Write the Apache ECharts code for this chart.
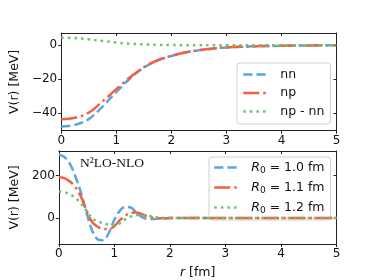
<!DOCTYPE html>
<html>
<head>
<meta charset="utf-8">
<script src="https://cdn.jsdelivr.net/npm/echarts@6/dist/echarts.min.js"></script>
<style>html,body{margin:0;padding:0;background:#fff}#c{width:374px;height:280px}</style>
</head>
<body>
<div id="c"></div>
<script>
// ---- data ----
const rTop = [0, 0.25, 0.5, 0.75, 1.0, 1.25, 1.5, 1.75, 2.0, 2.25, 2.5, 2.75, 3.0, 3.5, 4.0, 4.5, 5.0];
const nnValues = [-47.8, -46.8, -43.4, -36.0, -27.5, -19.5, -13.2, -9.0, -6.3, -4.3, -3.0, -2.0, -1.3, -0.6, -0.3, -0.1, 0];
const npValues = [-43.5, -42.6, -39.6, -33.0, -25.8, -18.8, -12.9, -8.8, -6.2, -4.2, -2.9, -1.9, -1.2, -0.6, -0.3, -0.1, 0];
const diffValues = [4.4, 4.2, 3.5, 2.5, 1.6, 0.9, 0.5, 0.25, 0.1, 0.05, 0, 0, 0, 0, 0, 0, 0];

const rBot = [0, 0.1, 0.2, 0.3, 0.4, 0.5, 0.6, 0.7, 0.8, 0.9, 1.0, 1.1, 1.2, 1.3, 1.4, 1.5, 1.6, 1.7, 1.8, 1.9, 2.0, 2.5, 3.0, 3.5, 4.0, 4.5, 5.0];
const r10Values = [298, 288, 255, 195, 120, 25, -58, -100, -104, -70, -8, 35, 53, 50, 25, 5, -4, -4, -2, -1, 0, 0, 0, 0, 0, 0, 0];
const r11Values = [192, 188, 172, 145, 100, 35, -18, -41, -51, -51, -38, -10, 12, 25, 26, 18, 8, 2, -1, -1, 0, 0, 0, 0, 0, 0, 0];
const r12Values = [125, 122, 112, 95, 68, 35, -2, -14, -25, -31, -33, -25, -5, 8, 14, 15, 12, 7, 3, 1, 0, 0, 0, 0, 0, 0, 0];

const topNames = ['nn', 'np', 'np - nn'];
const r0Labels = ['1.0', '1.1', '1.2'];
const xTicks = [0, 1, 2, 3, 4, 5];
const yTopTicks = [-40, -20, 0];
const yBotTicks = [0, 200];

// ---- styles ----
const BLUE = '#5da5da', RED = '#f4603f', GREEN = '#6cc36c';
const FONT = 'DejaVu Sans';
const pair = (xs, ys) => xs.map((x, i) => [x, ys[i]]);
const dashed = [9.2, 4], dashdot = [16, 4, 2.5, 4], dotted = [2.5, 4.1];

function xAx(grid, pos, showLabel, name) {
  return {
    type: 'value', gridIndex: grid, position: pos, min: 0, max: 5,
    axisLine: { show: true, onZero: false, lineStyle: { color: '#222', width: 1 } },
    axisTick: { show: true, inside: pos === 'top', length: 3, customValues: xTicks, lineStyle: { color: '#222' } },
    axisLabel: { show: showLabel, customValues: xTicks, margin: 4, fontFamily: FONT, fontSize: 12, color: '#111' },
    splitLine: { show: false },
    name: name || '', nameLocation: 'middle', nameGap: 22,
    nameTextStyle: {
      fontFamily: FONT, fontSize: 12.5, color: '#111',
      rich: { it: { fontStyle: 'italic', fontFamily: FONT, fontSize: 12.5, color: '#111' },
              n: { fontFamily: FONT, fontSize: 12.5, color: '#111' } }
    }
  };
}
function yAx(grid, pos, min, max, ticks, showLabel) {
  return {
    type: 'value', gridIndex: grid, position: pos, min: min, max: max,
    axisLine: { show: true, onZero: false, lineStyle: { color: '#222', width: 1 } },
    axisTick: { show: true, inside: pos === 'right', length: 3, customValues: ticks, lineStyle: { color: '#222' } },
    axisLabel: { show: showLabel, customValues: ticks, margin: 4, fontFamily: FONT, fontSize: 12, color: '#111',
                 formatter: v => (v < 0 ? '\u2212' + Math.abs(v) : String(v)) },
    splitLine: { show: false },
    name: showLabel ? 'V(r) [MeV]' : '', nameLocation: 'middle', nameGap: 29, nameRotate: 90,
    nameTextStyle: { fontFamily: FONT, fontSize: 12.5, color: '#111' }
  };
}
function line(name, data, color, dash, xi, yi, z) {
  return {
    type: 'line', name: name, data: data, xAxisIndex: xi, yAxisIndex: yi,
    smooth: 0.35, showSymbol: false, symbol: 'none', z: z, animation: false,
    lineStyle: { color: color, width: 2.5, type: dash, cap: 'butt' },
    itemStyle: { color: color }
  };
}
const r0Name = v => 'R0 = ' + v + ' fm';
const legendBase = {
  orient: 'vertical', itemWidth: 23, itemHeight: 14,
  borderColor: '#d0d0d0', borderWidth: 1, borderRadius: 3,
  backgroundColor: 'rgba(255,255,255,0.85)', selectedMode: false,
  itemStyle: { opacity: 0, borderWidth: 0 },
  lineStyle: { width: 2.5 }
};

const chart = echarts.init(document.getElementById('c'), null, { renderer: 'canvas' });
chart.setOption({
  backgroundColor: '#fff',
  animation: false,
  title: {
    text: 'N\u00b2LO-NLO', left: 75, top: 151,
    textStyle: { fontFamily: 'Liberation Serif', fontSize: 13.5, fontWeight: 'normal', color: '#111' }
  },
  grid: [
    { left: 47, right: 37.5, top: 33, height: 97.7 },
    { left: 47, right: 37.5, top: 151, height: 97 }
  ],
  xAxis: [
    xAx(0, 'bottom', true),
    xAx(0, 'top', false),
    xAx(1, 'bottom', true, '{it|r}{n| [fm]}'),
    xAx(1, 'top', false)
  ],
  yAxis: [
    yAx(0, 'left', -50.2, 7.2, yTopTicks, true),
    yAx(0, 'right', -50.2, 7.2, yTopTicks, false),
    yAx(1, 'left', -122, 316, yBotTicks, true),
    yAx(1, 'right', -122, 316, yBotTicks, false)
  ],
  legend: [
    Object.assign({}, legendBase, {
      data: topNames, left: 237, top: 63, itemGap: 5.5,
      padding: [5, 6, 6, 5],
      textStyle: { fontFamily: FONT, fontSize: 12.5, color: '#111', padding: [0, 0, 0, 9] }
    }),
    Object.assign({}, legendBase, {
      data: r0Labels.map(r0Name), left: 209, top: 157, itemGap: 6,
      padding: [4, 6, 5, 4],
      formatter: name => '{i|R}{s|0}{n| = ' + name.split(' ')[2] + ' fm}',
      textStyle: {
        fontFamily: FONT, fontSize: 12.5, color: '#111', padding: [0, 0, 0, 9],
        rich: {
          i: { fontFamily: FONT, fontStyle: 'italic', fontSize: 12.5, color: '#111' },
          s: { fontFamily: FONT, fontSize: 9, color: '#111', padding: [6, 0, 0, 0] },
          n: { fontFamily: FONT, fontSize: 12.5, color: '#111' }
        }
      }
    })
  ],
  series: [
    line(topNames[0], pair(rTop, nnValues), BLUE, dashed, 0, 0, 3),
    line(topNames[1], pair(rTop, npValues), RED, dashdot, 0, 0, 4),
    line(topNames[2], pair(rTop, diffValues), GREEN, dotted, 0, 0, 5),
    line(r0Name(r0Labels[0]), pair(rBot, r10Values), BLUE, dashed, 2, 2, 3),
    line(r0Name(r0Labels[1]), pair(rBot, r11Values), RED, dashdot, 2, 2, 4),
    line(r0Name(r0Labels[2]), pair(rBot, r12Values), GREEN, dotted, 2, 2, 5)
  ]
});
</script>
</body>
</html>
